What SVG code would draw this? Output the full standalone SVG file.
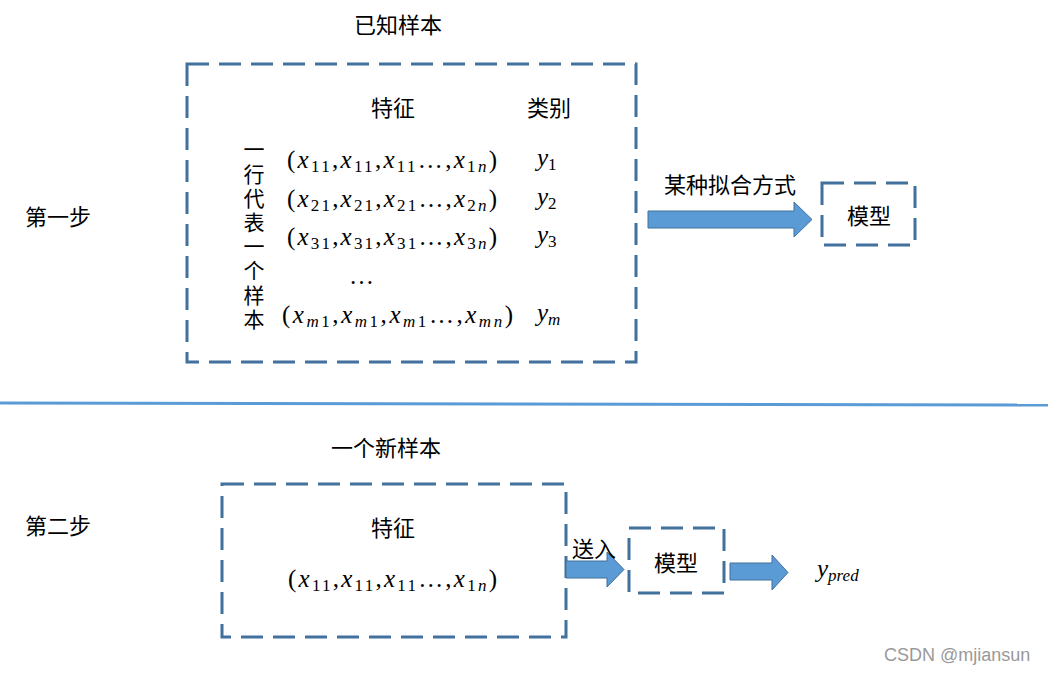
<svg xmlns="http://www.w3.org/2000/svg" width="1048" height="674" viewBox="0 0 1048 674">
<style>
.cn{font-family:"Noto Sans CJK SC","Noto Sans",sans-serif;font-size:22px;fill:#000}
.v{font-family:"Noto Sans CJK SC","Noto Sans",sans-serif;font-size:21px;fill:#000;writing-mode:vertical-rl;letter-spacing:3.2px}
.m{font-family:"Liberation Serif",serif;font-size:25px;fill:#000}
.i{font-style:italic}
.s{font-size:17px}
.box{fill:none;stroke:#41719C;stroke-width:3;stroke-dasharray:22 10}
.arr{fill:#5B9BD5;stroke:#41719C;stroke-width:1}
</style>
<rect width="1048" height="674" fill="#fff"/>
<line x1="0" y1="403" x2="1048" y2="405" stroke="#5B9BD5" stroke-width="3"/>
<text class="cn" x="25" y="225">第一步</text>
<text class="cn" x="25" y="534">第二步</text>
<g id="known">
<text class="cn" x="398" y="33" text-anchor="middle">已知样本</text>
<rect class="box" x="187" y="64" width="449" height="298"/>
<text class="cn" x="393" y="116" text-anchor="middle">特征</text>
<text class="cn" x="549" y="116" text-anchor="middle">类别</text>
<text class="v" x="254" y="139">一行代表一个样本</text>
<text class="m" x="287" y="168" textLength="210" lengthAdjust="spacing">(<tspan class="i">x</tspan><tspan class="s" dy="4">11</tspan><tspan dy="-4">,</tspan><tspan class="i">x</tspan><tspan class="s" dy="4">11</tspan><tspan dy="-4">,</tspan><tspan class="i">x</tspan><tspan class="s" dy="4">11</tspan><tspan dy="-4">…,</tspan><tspan class="i">x</tspan><tspan class="s" dy="4">1<tspan class="i">n</tspan></tspan><tspan dy="-4">)</tspan></text>
<text class="m" x="287" y="207" textLength="210" lengthAdjust="spacing">(<tspan class="i">x</tspan><tspan class="s" dy="4">21</tspan><tspan dy="-4">,</tspan><tspan class="i">x</tspan><tspan class="s" dy="4">21</tspan><tspan dy="-4">,</tspan><tspan class="i">x</tspan><tspan class="s" dy="4">21</tspan><tspan dy="-4">…,</tspan><tspan class="i">x</tspan><tspan class="s" dy="4">2<tspan class="i">n</tspan></tspan><tspan dy="-4">)</tspan></text>
<text class="m" x="287" y="245" textLength="210" lengthAdjust="spacing">(<tspan class="i">x</tspan><tspan class="s" dy="4">31</tspan><tspan dy="-4">,</tspan><tspan class="i">x</tspan><tspan class="s" dy="4">31</tspan><tspan dy="-4">,</tspan><tspan class="i">x</tspan><tspan class="s" dy="4">31</tspan><tspan dy="-4">…,</tspan><tspan class="i">x</tspan><tspan class="s" dy="4">3<tspan class="i">n</tspan></tspan><tspan dy="-4">)</tspan></text>
<text class="m" x="349" y="284">…</text>
<text class="m" x="282" y="323" textLength="231" lengthAdjust="spacing">(<tspan class="i">x</tspan><tspan class="s i" dy="4">m</tspan><tspan class="s">1</tspan><tspan dy="-4">,</tspan><tspan class="i">x</tspan><tspan class="s i" dy="4">m</tspan><tspan class="s">1</tspan><tspan dy="-4">,</tspan><tspan class="i">x</tspan><tspan class="s i" dy="4">m</tspan><tspan class="s">1</tspan><tspan dy="-4">…,</tspan><tspan class="i">x</tspan><tspan class="s i" dy="4">mn</tspan><tspan dy="-4">)</tspan></text>
<text class="m" x="537" y="166"><tspan class="i">y</tspan><tspan class="s" dy="4">1</tspan></text>
<text class="m" x="537" y="205"><tspan class="i">y</tspan><tspan class="s" dy="4">2</tspan></text>
<text class="m" x="537" y="243"><tspan class="i">y</tspan><tspan class="s" dy="4">3</tspan></text>
<text class="m" x="537" y="321"><tspan class="i">y</tspan><tspan class="s i" dy="4">m</tspan></text>
</g>
<g id="model1">
<rect class="box" x="822" y="183" width="93" height="62"/>
<text class="cn" x="869" y="224" text-anchor="middle">模型</text>
</g>
<g id="newsample">
<text class="cn" x="386" y="456" text-anchor="middle">一个新样本</text>
<rect class="box" x="222" y="484" width="344" height="153"/>
<text class="cn" x="393" y="536" text-anchor="middle">特征</text>
<text class="m" x="288" y="587" textLength="209" lengthAdjust="spacing">(<tspan class="i">x</tspan><tspan class="s" dy="4">11</tspan><tspan dy="-4">,</tspan><tspan class="i">x</tspan><tspan class="s" dy="4">11</tspan><tspan dy="-4">,</tspan><tspan class="i">x</tspan><tspan class="s" dy="4">11</tspan><tspan dy="-4">…,</tspan><tspan class="i">x</tspan><tspan class="s" dy="4">1<tspan class="i">n</tspan></tspan><tspan dy="-4">)</tspan></text>
</g>
<g id="model2">
<rect class="box" x="629" y="528" width="95" height="65"/>
<text class="cn" x="676" y="571" text-anchor="middle">模型</text>
</g>
<text class="m" x="817" y="577"><tspan class="i">y</tspan><tspan class="s i" dy="4" font-size="18">pred</tspan></text>
<g id="connectors">
<polygon class="arr" points="648,211 794,211 794,202 812,219.5 794,237 794,228 648,228"/>
<text class="cn" x="730" y="193" text-anchor="middle">某种拟合方式</text>
<polygon class="arr" points="566,561 607,561 607,552 624,569.5 607,587 607,578 566,578"/>
<text class="cn" x="572" y="557">送入</text>
<polygon class="arr" points="730,563 772,563 772,555 788,572.5 772,590 772,580 730,580"/>
</g>
<text x="884" y="661" font-family="Liberation Sans,sans-serif" font-size="18" fill="#999">CSDN @mjiansun</text>
</svg>
